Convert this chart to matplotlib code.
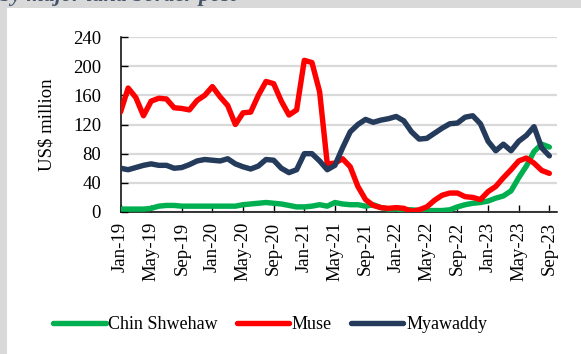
import matplotlib.pyplot as plt
import pandas as pd
from matplotlib.patches import Rectangle

plt.rcParams['font.family'] = ['Liberation Serif', 'DejaVu Serif']

# --- monthly exports by border post, US$ million ---
months = pd.date_range('2019-01-01', periods=57, freq='MS')
month_labels = list(months.strftime('%b-%y'))

chin_shwehaw = [4, 4, 4, 4, 5, 8, 9, 9, 8, 8, 8, 8, 8, 8, 8, 8, 10, 11, 12, 13,
                12, 11, 9, 7, 7, 8, 10, 8, 13, 11, 10, 10, 8, 10, 6, 4, 4, 3, 3, 2,
                2, 2, 2, 3, 7, 10, 12, 13, 15, 19, 22, 29, 47, 63, 83, 93, 89]

muse = [137, 170, 157, 132, 152, 156, 155, 143, 142, 140, 153, 160, 172, 158, 146, 120,
        136, 137, 160, 179, 176, 152, 133, 140, 208, 205, 165, 66, 67, 73, 62, 35,
        17, 9, 6, 5, 6, 5, 1, 3, 7, 16, 23, 26, 26, 21, 20, 17, 28, 35, 47, 58,
        70, 74, 67, 57, 53]

myawaddy = [60, 58, 61, 64, 66, 64, 64, 60, 61, 65, 70, 72, 71, 70, 73, 66, 62, 59, 63, 72,
            71, 60, 54, 58, 80, 80, 70, 58, 64, 88, 110, 120, 127, 123, 126, 128, 131, 125,
            110, 100, 101, 108, 115, 121, 122, 130, 132, 121, 97, 84, 93, 84, 97, 105, 117,
            88, 77]

series = [
    ('Chin Shwehaw', chin_shwehaw, '#00b050'),
    ('Muse', muse, '#ff0000'),
    ('Myawaddy', myawaddy, '#243b5c'),
]

fig = plt.figure(figsize=(5.81, 3.54), dpi=100)
fig.patch.set_facecolor('white')

# grey page margin along the left and top edges
fig.patches.append(Rectangle((0, 0), 7 / 581, 1, transform=fig.transFigure,
                             facecolor='#d9d9d9', edgecolor='none', zorder=0))
fig.patches.append(Rectangle((0, 1 - 8 / 354), 1, 8 / 354, transform=fig.transFigure,
                             facecolor='#d9d9d9', edgecolor='none', zorder=0))
fig.text(0.0, 1 - 1.5 / 354, 'by major land border post', ha='left', va='baseline',
         fontsize=16, style='italic', weight='bold', color='#44546a')

ax = fig.add_axes([120.5 / 581, 142 / 354, 436.5 / 581, 175 / 354])

x = list(range(len(months)))
for name, vals, color in series:
    ax.plot(x, vals, color=color, lw=3.9, solid_capstyle='round',
            solid_joinstyle='round', label=name, zorder=3)

ax.set_xlim(0, 57)
ax.set_ylim(0, 240)
ax.set_yticks(range(0, 241, 40))
ax.set_xticks(x[::4])
ax.set_xticklabels(month_labels[::4], rotation=90, fontsize=13.5)
ax.tick_params(axis='y', labelsize=13.5, direction='in', length=5, width=1, pad=14)
ax.tick_params(axis='x', direction='in', length=5, width=1, pad=7)

ax.grid(axis='y', color='#d9d9d9', lw=1.6, zorder=0)
ax.set_axisbelow(True)
for side in ('top', 'right'):
    ax.spines[side].set_visible(False)
for side in ('left', 'bottom'):
    ax.spines[side].set_color('black')
    ax.spines[side].set_linewidth(1.1)

ax.set_ylabel('US$ million', fontsize=13.5)
ax.yaxis.set_label_coords(-0.15, 0.5)

fig.legend(loc='center', bbox_to_anchor=(0.465, 0.082), ncol=3, frameon=False,
           fontsize=13, handlelength=2.9, handletextpad=0.15, columnspacing=1.05)

fig.savefig('out.png', dpi=100, facecolor='white')
